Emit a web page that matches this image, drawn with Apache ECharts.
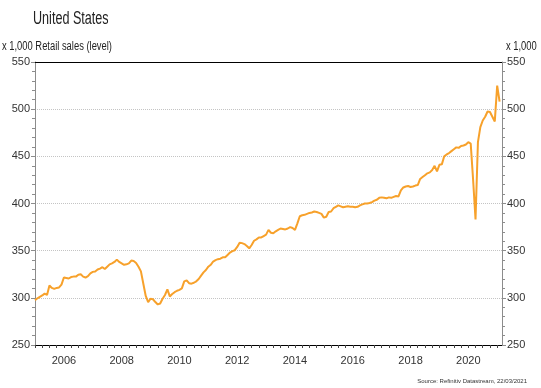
<!DOCTYPE html>
<html><head><meta charset="utf-8">
<script src="https://cdn.jsdelivr.net/npm/echarts@6/dist/echarts.min.js"></script>
<style>html,body{margin:0;padding:0;background:#fff}#c{width:541px;height:388px}</style>
</head><body><div id="c"></div>
<script>
const chartTitle = 'United States';
const unitLabel = 'x 1,000';
const seriesName = 'Retail sales (level)';
const sourceText = 'Source: Refinitiv Datastream, 22/03/2021';
const firstYear = 2005;
const yMin = 250, yMax = 550, yStep = 50;

// Monthly values (x 1,000), Jan 2005 - Feb 2021
const y2005 = [297.5, 299.5, 301, 302.5, 304.5, 303, 313, 310.5, 309.5, 310.5, 311, 314];
const y2006 = [321.5, 321, 320.5, 322, 322.5, 322.5, 324.5, 325, 322.5, 321.5, 323, 326];
const y2007 = [327.5, 328, 330, 331, 332.5, 330.5, 333, 335.5, 336.5, 338, 340.5, 338];
const y2008 = [336.5, 335, 335.5, 336.5, 339.5, 339, 337, 333, 328, 315, 302, 295.5];
const y2009 = [299, 298.5, 295.5, 293, 294, 299, 303, 309, 301.5, 304, 306, 307.5];
const y2010 = [308.5, 310, 317.5, 318.5, 315.5, 315, 316, 317.5, 320, 323.5, 327, 329.5];
const y2011 = [333, 335, 338.5, 340, 341, 341.5, 343, 343, 345.5, 348, 349.5, 350.5];
const y2012 = [354, 358.5, 358, 357, 355, 352.5, 356, 360.5, 362, 364, 364, 365.5];
const y2013 = [367, 372, 369, 368.5, 370.5, 372, 373.5, 373, 372.5, 373.5, 375, 374];
const y2014 = [372, 379, 386.5, 387.5, 388, 389, 390, 390.5, 391.5, 391, 390, 389];
const y2015 = [385, 386, 391, 391.5, 395, 396.5, 398, 397, 396, 396.5, 397, 396.5];
const y2016 = [396.5, 396, 396.5, 398, 399, 400, 400, 400.5, 401.5, 403, 404, 406];
const y2017 = [406.5, 406, 405.5, 406.5, 406, 407, 408, 407.5, 414, 417, 418, 418.5];
const y2018 = [417.5, 418, 419, 419.5, 426, 428, 430, 432, 433, 435.5, 440, 434];
const y2019 = [441, 441.5, 450, 452, 453.5, 455.5, 457.5, 459.5, 459, 461, 461.5, 462.5];
const y2020 = [465, 463.5, 425, 383, 465, 481, 488, 492, 497.5, 497, 492, 487];
const y2021 = [525, 508];

const sales = [].concat(y2005, y2006, y2007, y2008, y2009, y2010, y2011, y2012,
  y2013, y2014, y2015, y2016, y2017, y2018, y2019, y2020, y2021);

// one extra empty month so the axis runs to Mar 2021
const months = [];
for (let i = 0; i <= sales.length; i++) {
  const y = firstYear + Math.floor(i / 12), m = i % 12 + 1;
  months.push(y + '-' + (m < 10 ? '0' + m : m));
}

const FONT = "'Liberation Sans Narrow', 'Arial Narrow', 'Liberation Sans', Arial, sans-serif";
const chart = echarts.init(document.getElementById('c'), null, {renderer: 'canvas'});

const yAxisCommon = {
  type: 'value', min: yMin, max: yMax, interval: yStep,
  axisLine: {show: true, lineStyle: {color: '#8c8c8c', width: 1}},
  axisTick: {show: true, length: 4, lineStyle: {color: '#8c8c8c'}},
  minorTick: {show: true, splitNumber: 5, length: 3, lineStyle: {color: '#8c8c8c'}},
  axisLabel: {color: '#333', fontFamily: FONT, fontSize: 11, margin: 5},
  splitLine: {show: true, lineStyle: {color: '#c4c4c4', type: [1, 1], width: 1}},
  minorSplitLine: {show: false}
};

function narrowText(str, x, y, size, color, scale, align) {
  return {type: 'text', x: x, y: y, scaleX: scale, silent: true,
    style: {text: str, fontFamily: FONT, fontSize: size, fill: color,
            textVerticalAlign: 'top', textAlign: align || 'left'}};
}

chart.setOption({
  animation: false,
  backgroundColor: '#fff',
  graphic: [
    narrowText(chartTitle, 33, 10, 18, '#222', 0.7),
    narrowText(unitLabel + ' ' + seriesName, 2, 40, 12.5, '#222', 0.75),
    narrowText(unitLabel, 506, 40, 12.5, '#222', 0.75),
    narrowText(sourceText, 527, 378, 6, '#333', 1, 'right')
  ],
  grid: {left: 35, right: 39, top: 62, bottom: 43, containLabel: false},
  xAxis: [
    {
      type: 'category', data: months, boundaryGap: false, position: 'bottom',
      axisLine: {show: true, lineStyle: {color: '#000', width: 1}},
      axisTick: {show: true, length: 3, interval: (i) => i % 3 === 0, lineStyle: {color: '#444'}},
      axisLabel: {
        interval: (i, v) => v.slice(5) === '01' && parseInt(v.slice(0, 4)) % 2 === 0,
        formatter: (v) => v.slice(0, 4),
        color: '#333', fontFamily: FONT, fontSize: 11, margin: 10
      },
      splitLine: {show: false}
    },
    {
      type: 'category', data: months, boundaryGap: false, position: 'top',
      axisLine: {show: true, onZero: false, lineStyle: {color: '#000', width: 1}},
      axisTick: {show: false}, axisLabel: {show: false}, splitLine: {show: false}
    }
  ],
  yAxis: [
    Object.assign({position: 'left'}, yAxisCommon),
    Object.assign({position: 'right'}, yAxisCommon, {splitLine: {show: false}})
  ],
  series: [{
    name: seriesName, type: 'line', data: sales, xAxisIndex: 0, yAxisIndex: 0,
    showSymbol: false, smooth: false,
    lineStyle: {color: '#F7A12B', width: 2},
    itemStyle: {color: '#F7A12B'}
  }]
});
</script></body></html>
